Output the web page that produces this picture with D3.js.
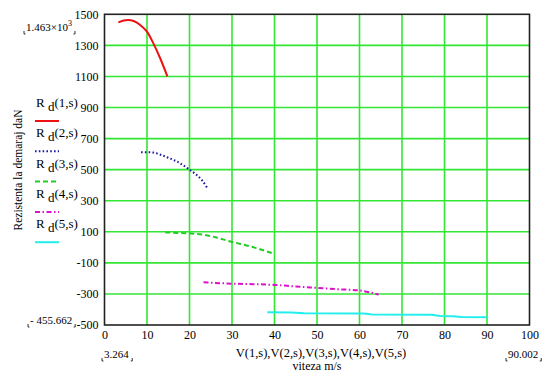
<!DOCTYPE html>
<meta charset="utf-8">
<style>
body { margin: 0; background: #fff; }
text { font-family: "Liberation Serif", "Times New Roman", serif; fill: #000; }
.tick text { font-size: 12px; }
</style>
<svg width="554" height="375"></svg>
<script src="https://d3js.org/d3.v7.min.js"></script>
<script>
// speed (m/s) and resistance (daN) for each gear
var v1 = [3.264, 4.5, 5.5, 7, 8.4, 10, 11.5, 13.1, 14.8]
var r1 = [1448, 1460, 1463, 1455, 1431, 1388, 1313, 1217, 1100]
var v2 = [8.6, 10, 11.5, 13, 14.7, 16.3, 17.8, 19.8, 21.7, 23, 24.1]
var r2 = [612, 612, 610, 598, 580, 562, 541, 504, 465, 430, 386]
var v3 = [14.3, 17, 20, 23.7, 26.5, 29.6, 32, 34.3, 37, 39.8]
var r3 = [96, 93, 90, 80, 62, 38, 22, 6, -16, -40]
var v4 = [23.3, 30, 35, 40, 45, 50, 55, 60, 62.5, 64.5]
var r4 = [-225, -234, -237, -242, -252, -261, -270, -278, -290, -304]
var v5 = [38.3, 44, 47, 61, 63, 77, 79, 82, 84, 90.002]
var r5 = [-418, -419, -425, -426, -432, -434, -442, -443, -448, -450]

var xTicks = [0, 10, 20, 30, 40, 50, 60, 70, 80, 90, 100]
var yTicks = [1500, 1300, 1100, 900, 700, 500, 300, 100, -100, -300, -500]
var legendLabels = ["1,s", "2,s", "3,s", "4,s", "5,s"]

var svg = d3.select("svg")
var x = d3.scaleLinear().domain([0, 100]).range([104.5, 529.5])
var y = d3.scaleLinear().domain([-500, 1500]).range([325, 14.3])

// grid
svg.append("g").selectAll("line").data(xTicks.slice(1, -1)).enter().append("line")
  .attr("x1", d => x(d)).attr("x2", d => x(d))
  .attr("y1", y(1500)).attr("y2", y(-500))
  .attr("stroke", "#33e633").attr("stroke-width", 1.6)
svg.append("g").selectAll("line").data(yTicks.slice(1, -1)).enter().append("line")
  .attr("y1", d => y(d)).attr("y2", d => y(d))
  .attr("x1", x(0)).attr("x2", x(100))
  .attr("stroke", "#33e633").attr("stroke-width", 1.6)

// frame
svg.append("rect")
  .attr("x", x(0)).attr("y", y(1500))
  .attr("width", x(100) - x(0)).attr("height", y(-500) - y(1500))
  .attr("fill", "none").attr("stroke", "#222").attr("stroke-width", 1.6)

// axes
var ax = svg.append("g").attr("transform", "translate(0," + y(-500) + ")")
  .call(d3.axisBottom(x).tickValues(xTicks).tickSize(0).tickPadding(5).tickFormat(d => String(d)))
ax.select(".domain").remove()
var ay = svg.append("g").attr("transform", "translate(" + (x(0) - 1) + ",0)")
  .call(d3.axisLeft(y).tickValues(yTicks).tickSize(0).tickPadding(5).tickFormat(d => String(d)))
ay.select(".domain").remove()

// series
var series = [
  {v: v1, r: r1, color: "#ee1111", dash: null, curve: d3.curveMonotoneX},
  {v: v2, r: r2, color: "#1a1aa0", dash: "1.6 2.2", curve: d3.curveMonotoneX},
  {v: v3, r: r3, color: "#22cc22", dash: "5 3", curve: d3.curveMonotoneX},
  {v: v4, r: r4, color: "#dd11cc", dash: "5 2.5 1.5 2.5", curve: d3.curveMonotoneX},
  {v: v5, r: r5, color: "#22eeee", dash: null, curve: d3.curveLinear}
]
series.forEach(function(s) {
  var pts = s.v.map((d, i) => [d, s.r[i]])
  svg.append("path")
    .attr("d", d3.line().x(d => x(d[0])).y(d => y(d[1])).curve(s.curve)(pts))
    .attr("fill", "none")
    .attr("stroke", s.color)
    .attr("stroke-width", 2)
    .attr("stroke-dasharray", s.dash)
})

// legend
var lg = svg.append("g").selectAll("g").data(series).enter().append("g")
  .attr("transform", (d, i) => "translate(36," + (107 + i * 30.3) + ")")
var lt = lg.append("text").attr("font-size", 13)
lt.append("tspan").text("R ")
lt.append("tspan").attr("dy", 4).text("d")
lt.append("tspan").attr("dy", -4).text((d, i) => "(" + legendLabels[i] + ")")
lg.append("line")
  .attr("x1", -1).attr("x2", 23).attr("y1", 14).attr("y2", 14)
  .attr("stroke", d => d.color).attr("stroke-width", 2)
  .attr("stroke-dasharray", d => d.dash)

// axis titles
svg.append("text").attr("x", 321).attr("y", 357).attr("text-anchor", "middle")
  .attr("font-size", 12.5).text("V(1,s),V(2,s),V(3,s),V(4,s),V(5,s)")
svg.append("text").attr("x", 317).attr("y", 370).attr("text-anchor", "middle")
  .attr("font-size", 12).text("viteza m/s")
svg.append("text").attr("transform", "translate(22,170) rotate(-90)")
  .attr("text-anchor", "middle").attr("font-size", 11.5).text("Rezistenta la demaraj daN")

// range markers (Mathcad style)
function marker(tx, ty, txt, sup) {
  var t = svg.append("text").attr("x", tx).attr("y", ty).attr("font-size", 11)
  t.append("tspan").text(txt)
  if (sup) t.append("tspan").attr("dy", -5).attr("font-size", 8).text(sup)
  var b = t.node().getBBox()
  var by = ty + 3
  svg.append("path").attr("d", "M" + (b.x - 2) + "," + (by - 3) + "v3h1.5")
    .attr("stroke", "#000").attr("fill", "none").attr("stroke-width", 0.8)
  svg.append("path").attr("d", "M" + (b.x + b.width + 3) + "," + (by - 3) + "v3h-1.5")
    .attr("stroke", "#000").attr("fill", "none").attr("stroke-width", 0.8)
}
marker(26, 31, "1.463×10", "3")
marker(30, 324, "- 455.662")
marker(104, 358, "3.264")
marker(508, 358, "90.002")
</script>
